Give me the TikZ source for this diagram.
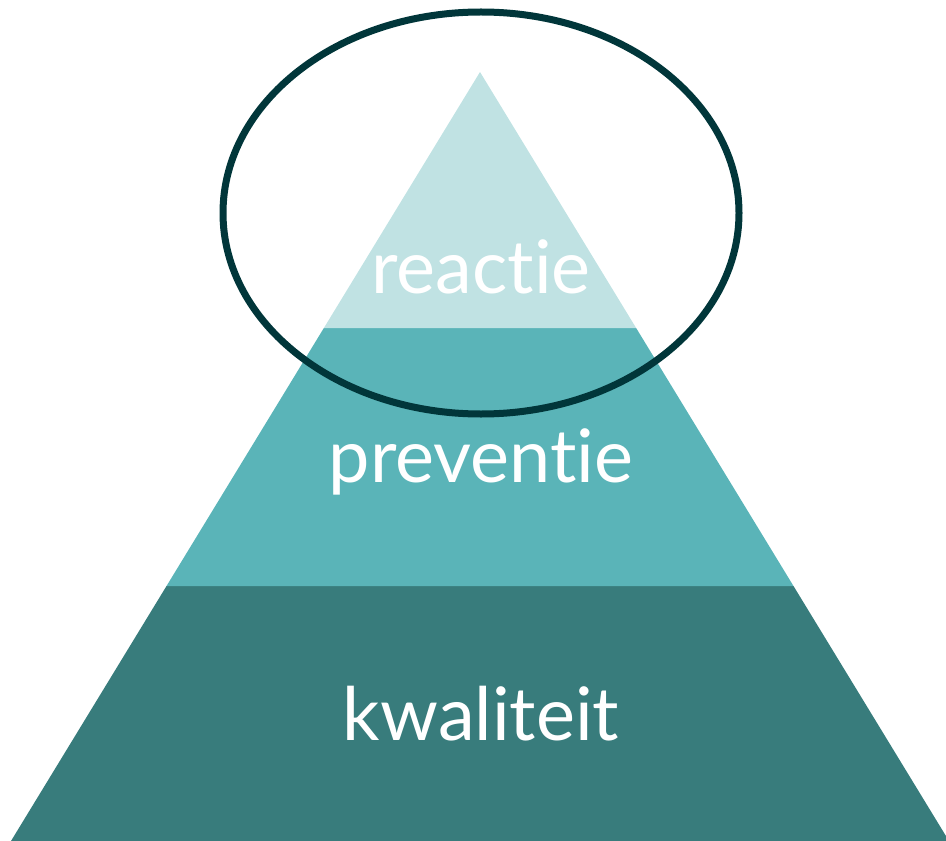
\documentclass[tikz,border=0pt]{standalone}
\usepackage{fontspec}
\setmainfont{Lato}[Ligatures={NoCommon}]
\usepackage{xcolor}
\usetikzlibrary{calc}
\definecolor{topteal}{HTML}{C0E2E3}
\definecolor{midteal}{HTML}{5AB4B8}
\definecolor{lowteal}{HTML}{387C7C}
\definecolor{ringteal}{HTML}{01363A}
\tikzset{
	layer/.style={fill=#1, draw=none},
	label/.style={text=white, anchor=base, inner sep=0pt, font=\fontsize{42}{42}\selectfont}
}

\begin{document}
\begin{tikzpicture}[x=0.02cm, y=-0.02cm]
		\useasboundingbox (0, 0) rectangle (946, 841);
		\clip (0, 0) rectangle (946, 841);

		\coordinate (apex)	at (480, 72);
		\coordinate (bl)	at (11, 841);
		\coordinate (br)	at (949, 841);
		\coordinate (ul)	at ($(apex)!0.3329!(bl)$);
		\coordinate (ur)	at ($(apex)!0.3329!(br)$);
		\coordinate (ml)	at ($(apex)!0.6684!(bl)$);
		\coordinate (mr)	at ($(apex)!0.6684!(br)$);

		\fill [layer=lowteal]	(ml) -- (mr) -- (br) -- (bl) -- cycle;
		\fill [layer=midteal]	(ul) -- (ur) -- (mr) -- (ml) -- cycle;
		\fill [layer=topteal]	(apex) -- (ur) -- (ul) -- cycle;

		\node [label] (reactie)		at (481, 293) {reactie};
		\node [label] (preventie)	at (481, 482) {preventie};
		\node [label] (kwaliteit)	at (481, 740) {kwaliteit};

		\draw [ringteal, line width=7*0.02cm]	(481, 213) ellipse (258 and 201);
	\end{tikzpicture}
\end{document}
